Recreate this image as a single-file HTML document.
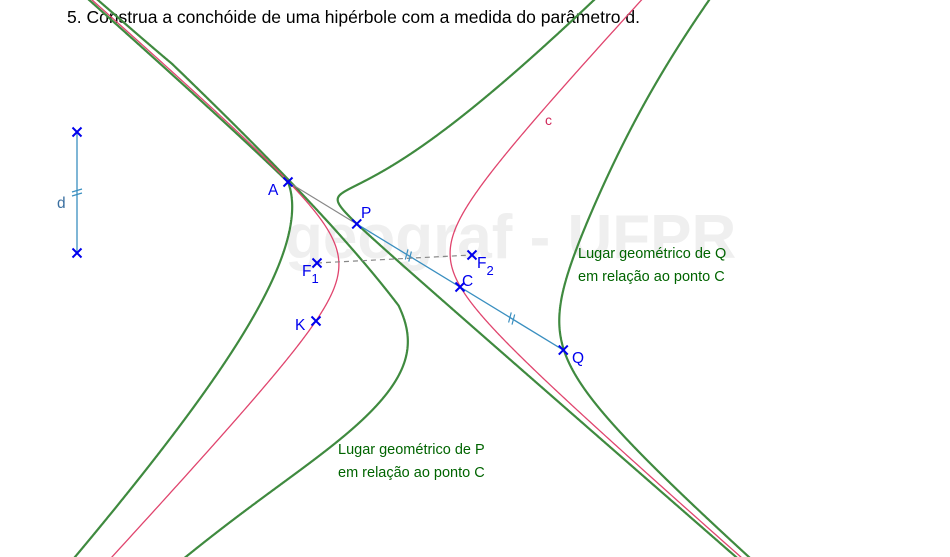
<!DOCTYPE html>
<html><head><meta charset="utf-8">
<style>
html,body{margin:0;padding:0;background:#fff;width:950px;height:557px;overflow:hidden;}
svg{display:block;font-family:"Liberation Sans",sans-serif;}
</style></head>
<body>
<svg id="fig" width="950" height="557" viewBox="0 0 950 557" xmlns="http://www.w3.org/2000/svg">
<text x="285" y="258" font-size="62" font-weight="bold" fill="#efefef">geograf - UFPR</text>
<text x="67" y="23" font-size="17.5" fill="#000">5. Construa a conchóide de uma hipérbole com a medida do parâmetro d.</text>
<g id="curves"></g>
<g id="marks"></g>
<text x="545" y="125" font-size="14" fill="#d0285a">c</text>
<text x="578" y="258" font-size="14.5" fill="#006400">Lugar geométrico de Q</text>
<text x="578" y="281" font-size="14.5" fill="#006400">em relação ao ponto C</text>
<text x="338" y="454" font-size="14.5" fill="#006400">Lugar geométrico de P</text>
<text x="338" y="477" font-size="14.5" fill="#006400">em relação ao ponto C</text>
</svg>
<script>
const focus1 = [317, 263];
const focus2 = [472, 255];
const axisHalf = [55.75];
const pointA = [288, 182];
const pointC = [460, 287];
const pointK = [316, 321];
const dEnds = [[77, 132], [77, 253]];
const paramD = [121];
const nearCut = [45];

const NS = "http://www.w3.org/2000/svg";
const curves = document.getElementById('curves');
const marks = document.getElementById('marks');
function mk(tag, attrs, parent) {
  const e = document.createElementNS(NS, tag);
  for (const k in attrs) e.setAttribute(k, attrs[k]);
  parent.appendChild(e);
  return e;
}
const cx = (focus1[0] + focus2[0]) / 2, cy = (focus1[1] + focus2[1]) / 2;
const fdx = focus2[0] - focus1[0], fdy = focus2[1] - focus1[1];
const cc = Math.hypot(fdx, fdy) / 2;
const a = axisHalf[0];
const b = Math.sqrt(cc * cc - a * a);
const th = Math.atan2(fdy, fdx);
const ct = Math.cos(th), st = Math.sin(th);
function hyp(sign, t) {
  const u = sign * a * Math.cosh(t), v = b * Math.sinh(t);
  return [cx + u * ct - v * st, cy + u * st + v * ct];
}
const d = paramD[0];
const Lth = nearCut[0];
function pathFrom(pts, maxJump) {
  let s = '', prev = null;
  for (const p of pts) {
    if (!prev || Math.hypot(p[0] - prev[0], p[1] - prev[1]) > maxJump) s += 'M' + p[0].toFixed(2) + ' ' + p[1].toFixed(2);
    else s += 'L' + p[0].toFixed(2) + ' ' + p[1].toFixed(2);
    prev = p;
  }
  return s;
}
[-1, 1].forEach(sg => {
  [1, -1].forEach(dir => {
    const pts = [];
    for (let t = -4; t <= 4; t += 0.002) {
      const h = hyp(sg, t);
      const vx = h[0] - pointA[0], vy = h[1] - pointA[1];
      const L = Math.hypot(vx, vy);
      if (L < 1e-6) { pts.push([pointA[0], pointA[1]]); continue; }
      const ux = vx / L, uy = vy / L;
      if (dir < 0 && L < d) { pts.push([pointA[0], pointA[1]]); continue; }
      if (dir > 0 && L < Lth) {
        const r = (Lth + d) * (L / Lth);
        pts.push([pointA[0] + r * ux, pointA[1] + r * uy]);
        continue;
      }
      pts.push([h[0] + dir * d * ux, h[1] + dir * d * uy]);
    }
    const e = mk('path', {d: pathFrom(pts, 1e9), fill: 'none', stroke: '#3f8a3f', 'stroke-width': 2.2}, curves);
    
    
  });
});
[-1, 1].forEach(sg => {
  const pts = [];
  for (let t = -4; t <= 4; t += 0.01) pts.push(hyp(sg, t));
  const e = mk('path', {d: pathFrom(pts, 40), fill: 'none', stroke: '#e0456e', 'stroke-width': 1.3}, curves);
  
  
});
const vx = pointC[0] - pointA[0], vy = pointC[1] - pointA[1], L = Math.hypot(vx, vy);
const P = [pointC[0] - d * vx / L, pointC[1] - d * vy / L];
const Q = [pointC[0] + d * vx / L, pointC[1] + d * vy / L];
let e;
e = mk('line', {x1: pointA[0], y1: pointA[1], x2: P[0], y2: P[1], stroke: '#888', 'stroke-width': 1.2}, marks);


e = mk('line', {x1: P[0], y1: P[1], x2: Q[0], y2: Q[1], stroke: '#3a8fc0', 'stroke-width': 1.3}, marks);


e = mk('line', {x1: focus1[0], y1: focus1[1], x2: focus2[0], y2: focus2[1], stroke: '#888', 'stroke-width': 1.2, 'stroke-dasharray': '5,4'}, marks);


e = mk('line', {x1: dEnds[0][0], y1: dEnds[0][1], x2: dEnds[1][0], y2: dEnds[1][1], stroke: '#3a8fc0', 'stroke-width': 1.3}, marks);


function ticks(p1, p2, name) {
  const mx = (p1[0] + p2[0]) / 2, my = (p1[1] + p2[1]) / 2;
  const ux = (p2[0] - p1[0]), uy = (p2[1] - p1[1]), l = Math.hypot(ux, uy);
  const nx = -uy / l, ny = ux / l, tx = ux / l, ty = uy / l;
  let s = '';
  [-2, 2].forEach(o => {
    const bx = mx + tx * o, by = my + ty * o;
    s += 'M' + (bx - nx * 5 - tx * 1.5) + ' ' + (by - ny * 5 - ty * 1.5) + 'L' + (bx + nx * 5 + tx * 1.5) + ' ' + (by + ny * 5 + ty * 1.5);
  });
  const t = mk('path', {d: s, stroke: '#3a8fc0', 'stroke-width': 1.2, fill: 'none'}, marks);
  
  
}
ticks(P, pointC, 'tick-p-c');
ticks(pointC, Q, 'tick-c-q');
ticks(dEnds[0], dEnds[1], 'tick-d');
function cross(p, name) {
  const s = 'M' + (p[0] - 4.5) + ' ' + (p[1] - 4.5) + 'L' + (p[0] + 4.5) + ' ' + (p[1] + 4.5) + 'M' + (p[0] - 4.5) + ' ' + (p[1] + 4.5) + 'L' + (p[0] + 4.5) + ' ' + (p[1] - 4.5);
  const c = mk('path', {d: s, stroke: '#0000ee', 'stroke-width': 2, fill: 'none'}, marks);
  
  
}
cross(pointA, 'point-a'); cross(P, 'point-p'); cross(pointC, 'point-c'); cross(Q, 'point-q');
cross(pointK, 'point-k'); cross(focus1, 'point-f1'); cross(focus2, 'point-f2');
cross(dEnds[0], 'd-end-top'); cross(dEnds[1], 'd-end-bottom');
function label(x, y, txt, name, sub, color) {
  const t = mk('text', {x: x, y: y, 'font-size': 15.5, fill: color || '#0000ee'}, marks);
  
  
  t.textContent = txt;
  if (sub) {
    const s = mk('tspan', {dy: 7, 'font-size': 13}, t);
    s.textContent = sub;
  }
}
label(268, 195, 'A', 'label-a');
label(361, 218, 'P', 'label-p');
label(462, 286, 'C', 'label-c');
label(572, 363, 'Q', 'label-q');
label(295, 330, 'K', 'label-k');
label(302, 276, 'F', 'label-f1', '1');
label(477, 268, 'F', 'label-f2', '2');
label(57, 208, 'd', 'label-d', null, '#3a6fa0');
</script>
</body></html>
